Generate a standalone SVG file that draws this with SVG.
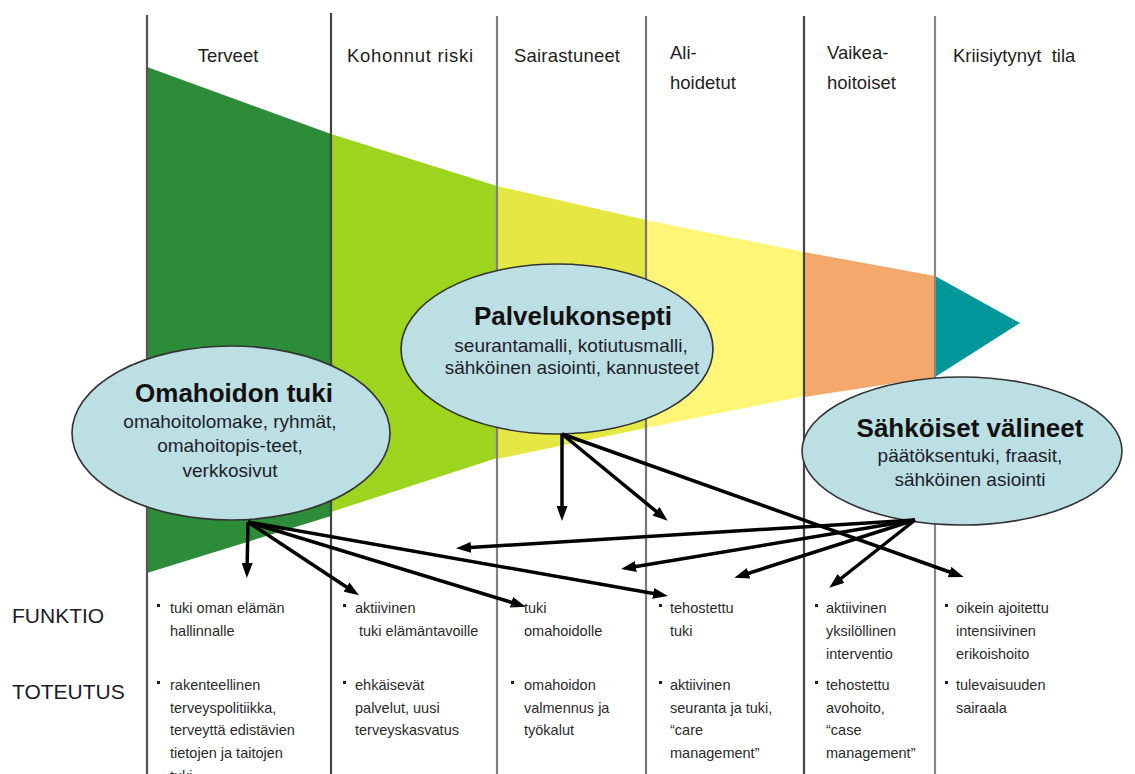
<svg xmlns="http://www.w3.org/2000/svg" width="1135" height="774" viewBox="0 0 1135 774">
<defs>
<marker id="ah" markerUnits="userSpaceOnUse" markerWidth="15" markerHeight="11" refX="9" refY="5.5" orient="auto">
<path d="M0,0 L15,5.5 L0,11 z" fill="#000"/>
</marker>
<style>
.hdr{font-family:"Liberation Sans",Arial,sans-serif;font-size:18.5px;fill:#1e1e1e}
.lbl{font-family:"Liberation Sans",Arial,sans-serif;font-size:21px;fill:#1a1a2a}
.bt{font-family:"Liberation Sans",Arial,sans-serif;font-size:14.5px;fill:#2a2a2a}
.ttl{font-family:"Liberation Sans",Arial,sans-serif;font-size:26px;font-weight:bold;fill:#111;text-anchor:middle}
.sub{font-family:"Liberation Sans",Arial,sans-serif;font-size:19px;fill:#1e1e2a;text-anchor:middle}
.ell{fill:#BCDFE4;stroke:#333;stroke-width:1.6}
.vl{stroke-width:2.2}
.arr{stroke:#000;stroke-width:3.5;fill:none;marker-end:url(#ah)}
.bul{fill:#222}
</style>
</defs>
<rect width="1135" height="774" fill="#fff"/>
<g id="funnel">
<polygon points="147,67 331,134 331,516 147,573" fill="#2D8C37"/>
<polygon points="331,134 497,186 497,458 331,512" fill="#9DD41D"/>
<polygon points="497,186 646,220 646,428 497,459" fill="#E5E843"/>
<polygon points="646,220 804,252 804,396 646,428" fill="#FFF576"/>
<polygon points="804,252 935,276 935,377 804,397" fill="#F5A86B"/>
<polygon points="935,276 1020,323 935,377" fill="#00979A"/>
</g>
<g id="columns">
<line class="vl" x1="147" y1="15" x2="147" y2="774" stroke="#555"/>
<line class="vl" x1="331" y1="13" x2="331" y2="774" stroke="#444"/>
<line class="vl" x1="497" y1="16" x2="497" y2="774" stroke="#808080"/>
<line class="vl" x1="646" y1="16" x2="646" y2="774" stroke="#777"/>
<line class="vl" x1="804" y1="16" x2="804" y2="774" stroke="#444"/>
<line class="vl" x1="935" y1="16" x2="935" y2="774" stroke="#888"/>
</g>
<g id="headers">
<text class="hdr" x="228" y="62" text-anchor="middle">Terveet</text>
<text class="hdr" x="347" y="62" textLength="126">Kohonnut riski</text>
<text class="hdr" x="514" y="62" textLength="106">Sairastuneet</text>
<text class="hdr" x="670" y="59">Ali-</text>
<text class="hdr" x="670" y="89">hoidetut</text>
<text class="hdr" x="827" y="59">Vaikea-</text>
<text class="hdr" x="827" y="89">hoitoiset</text>
<text class="hdr" x="953" y="62" xml:space="preserve">Kriisiytynyt  tila</text>
</g>
<g id="node-omahoidon">
<ellipse class="ell" cx="231" cy="433" rx="159" ry="87"/>
<text class="ttl" x="234" y="402">Omahoidon tuki</text>
<text class="sub" x="230" y="428">omahoitolomake, ryhmät,</text>
<text class="sub" x="230" y="452">omahoitopis-teet,</text>
<text class="sub" x="230" y="477">verkkosivut</text>
</g>
<g id="node-palvelukonsepti">
<ellipse class="ell" cx="557" cy="349" rx="156" ry="85"/>
<text class="ttl" x="573" y="325">Palvelukonsepti</text>
<text class="sub" x="571" y="352">seurantamalli, kotiutusmalli,</text>
<text class="sub" x="572" y="374">sähköinen asiointi, kannusteet</text>
</g>
<g id="node-sahkoiset">
<ellipse class="ell" cx="962" cy="451" rx="160" ry="74"/>
<text class="ttl" x="970" y="437">Sähköiset välineet</text>
<text class="sub" x="970" y="462">päätöksentuki, fraasit,</text>
<text class="sub" x="970" y="486">sähköinen asiointi</text>
</g>
<g id="connectors">
<line class="arr" x1="248" y1="522" x2="247" y2="572"/>
<line class="arr" x1="248" y1="522" x2="354" y2="592"/>
<line class="arr" x1="248" y1="522" x2="520" y2="605"/>
<line class="arr" x1="248" y1="522" x2="662" y2="595"/>
<line class="arr" x1="562" y1="434" x2="562" y2="515"/>
<line class="arr" x1="562" y1="434" x2="663" y2="517"/>
<line class="arr" x1="562" y1="434" x2="958" y2="575"/>
<line class="arr" x1="915" y1="520" x2="462" y2="548"/>
<line class="arr" x1="915" y1="520" x2="627" y2="568"/>
<line class="arr" x1="915" y1="520" x2="740" y2="576"/>
<line class="arr" x1="915" y1="520" x2="834" y2="584"/>
</g>
<g id="row-labels">
<text class="lbl" x="12" y="623">FUNKTIO</text>
<text class="lbl" x="12" y="699">TOTEUTUS</text>
</g>
<g id="col1">
<rect class="bul" x="157" y="604" width="3" height="3"/>
<text class="bt" x="170" y="613">tuki oman elämän</text>
<text class="bt" x="170" y="636">hallinnalle</text>
<rect class="bul" x="157" y="681" width="3" height="3"/>
<text class="bt" x="170" y="690">rakenteellinen</text>
<text class="bt" x="170" y="713">terveyspolitiikka,</text>
<text class="bt" x="170" y="735">terveyttä edistävien</text>
<text class="bt" x="170" y="758">tietojen ja taitojen</text>
<text class="bt" x="170" y="781">tuki</text>
</g>
<g id="col2">
<rect class="bul" x="343" y="604" width="3" height="3"/>
<text class="bt" x="355" y="613">aktiivinen</text>
<text class="bt" x="359" y="636">tuki elämäntavoille</text>
<rect class="bul" x="343" y="681" width="3" height="3"/>
<text class="bt" x="355" y="690">ehkäisevät</text>
<text class="bt" x="355" y="713">palvelut, uusi</text>
<text class="bt" x="355" y="735">terveyskasvatus</text>
</g>
<g id="col3">
<rect class="bul" x="511" y="604" width="3" height="3"/>
<text class="bt" x="524" y="613">tuki</text>
<text class="bt" x="524" y="636">omahoidolle</text>
<rect class="bul" x="511" y="681" width="3" height="3"/>
<text class="bt" x="524" y="690">omahoidon</text>
<text class="bt" x="524" y="713">valmennus ja</text>
<text class="bt" x="524" y="735">työkalut</text>
</g>
<g id="col4">
<rect class="bul" x="659" y="604" width="3" height="3"/>
<text class="bt" x="670" y="613">tehostettu</text>
<text class="bt" x="670" y="636">tuki</text>
<rect class="bul" x="659" y="681" width="3" height="3"/>
<text class="bt" x="670" y="690">aktiivinen</text>
<text class="bt" x="670" y="713">seuranta ja tuki,</text>
<text class="bt" x="670" y="735">“care</text>
<text class="bt" x="670" y="758">management”</text>
</g>
<g id="col5">
<rect class="bul" x="815" y="604" width="3" height="3"/>
<text class="bt" x="826" y="613">aktiivinen</text>
<text class="bt" x="826" y="636">yksilöllinen</text>
<text class="bt" x="826" y="659">interventio</text>
<rect class="bul" x="815" y="681" width="3" height="3"/>
<text class="bt" x="826" y="690">tehostettu</text>
<text class="bt" x="826" y="713">avohoito,</text>
<text class="bt" x="826" y="735">“case</text>
<text class="bt" x="826" y="758">management”</text>
</g>
<g id="col6">
<rect class="bul" x="945" y="604" width="3" height="3"/>
<text class="bt" x="956" y="613">oikein ajoitettu</text>
<text class="bt" x="956" y="636">intensiivinen</text>
<text class="bt" x="956" y="659">erikoishoito</text>
<rect class="bul" x="945" y="681" width="3" height="3"/>
<text class="bt" x="956" y="690">tulevaisuuden</text>
<text class="bt" x="956" y="713">sairaala</text>
</g>
</svg>
